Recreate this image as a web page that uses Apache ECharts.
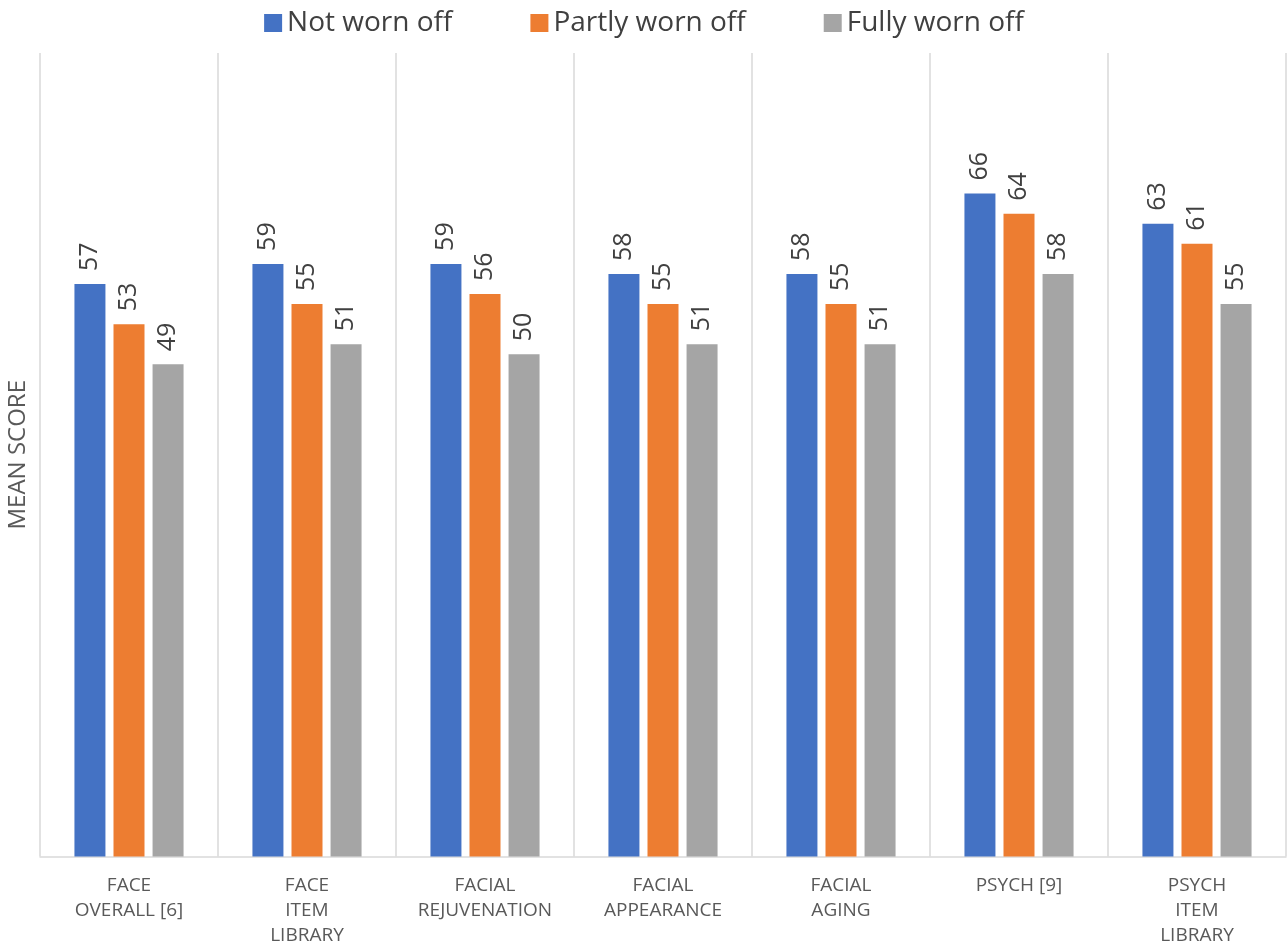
<!DOCTYPE html>
<html>
<head>
<meta charset="utf-8">
<script src="https://cdn.jsdelivr.net/npm/echarts@6/dist/echarts.min.js"></script>
<style>
html,body{margin:0;padding:0;background:#fff;}
#chart{width:1288px;height:950px;}
</style>
</head>
<body>
<div id="chart"></div>
<script>
const categories = ["FACE\nOVERALL [6]", "FACE\nITEM\nLIBRARY", "FACIAL\nREJUVENATION", "FACIAL\nAPPEARANCE", "FACIAL\nAGING", "PSYCH [9]", "PSYCH\nITEM\nLIBRARY"];
const notWornOff = [57, 59, 59, 58, 58, 66, 63];
const partlyWornOff = [53, 55, 56, 55, 55, 64, 61];
const fullyWornOff = [49, 51, 50, 51, 51, 58, 55];
const seriesNames = ["Not worn off", "Partly worn off", "Fully worn off"];
const colors = ["#4472C4", "#ED7D31", "#A5A5A5"];
const FONT = "Open Sans";

const chart = echarts.init(document.getElementById('chart'), null, {renderer: 'canvas'});
const labelCfg = {
  show: true, position: 'top', rotate: 90, align: 'left', verticalAlign: 'middle',
  distance: 13, fontSize: 25, fontFamily: FONT, color: '#404040'
};
function mk(name, data, color) {
  return {name: name, type: 'bar', data: data, barWidth: 31, barGap: '26%',
    itemStyle: {color: color}, label: labelCfg, animation: false};
}
chart.setOption({
  animation: false,
  textStyle: {fontFamily: FONT},
  legend: {
    top: 4, left: 'center', itemWidth: 18, itemHeight: 18, itemGap: 78,
    icon: 'rect',
    textStyle: {fontSize: 28, fontFamily: FONT, color: '#404040'},
    data: seriesNames
  },
  grid: {left: 40, right: 2, top: 53, bottom: 93.5, outerBoundsMode: 'none', containLabel: false},
  xAxis: {
    type: 'category', data: categories,
    axisLine: {show: true, lineStyle: {color: '#d9d9d9', width: 1.5}},
    axisTick: {show: false},
    splitLine: {show: true, interval: 0, lineStyle: {color: '#d9d9d9', width: 1.5}},
    axisLabel: {interval: 0, margin: 17, fontSize: 19, lineHeight: 25, fontFamily: FONT, color: '#595959'}
  },
  yAxis: {
    type: 'value', min: 0, max: 80,
    name: 'MEAN SCORE', nameLocation: 'middle', nameRotate: 90, nameGap: 22,
    nameTextStyle: {fontSize: 24, fontFamily: FONT, color: '#595959', verticalAlign: 'middle'},
    axisLine: {show: false}, axisTick: {show: false}, axisLabel: {show: false},
    splitLine: {show: false}
  },
  series: [
    mk(seriesNames[0], notWornOff, colors[0]),
    mk(seriesNames[1], partlyWornOff, colors[1]),
    mk(seriesNames[2], fullyWornOff, colors[2])
  ]
});
</script>
</body>
</html>
